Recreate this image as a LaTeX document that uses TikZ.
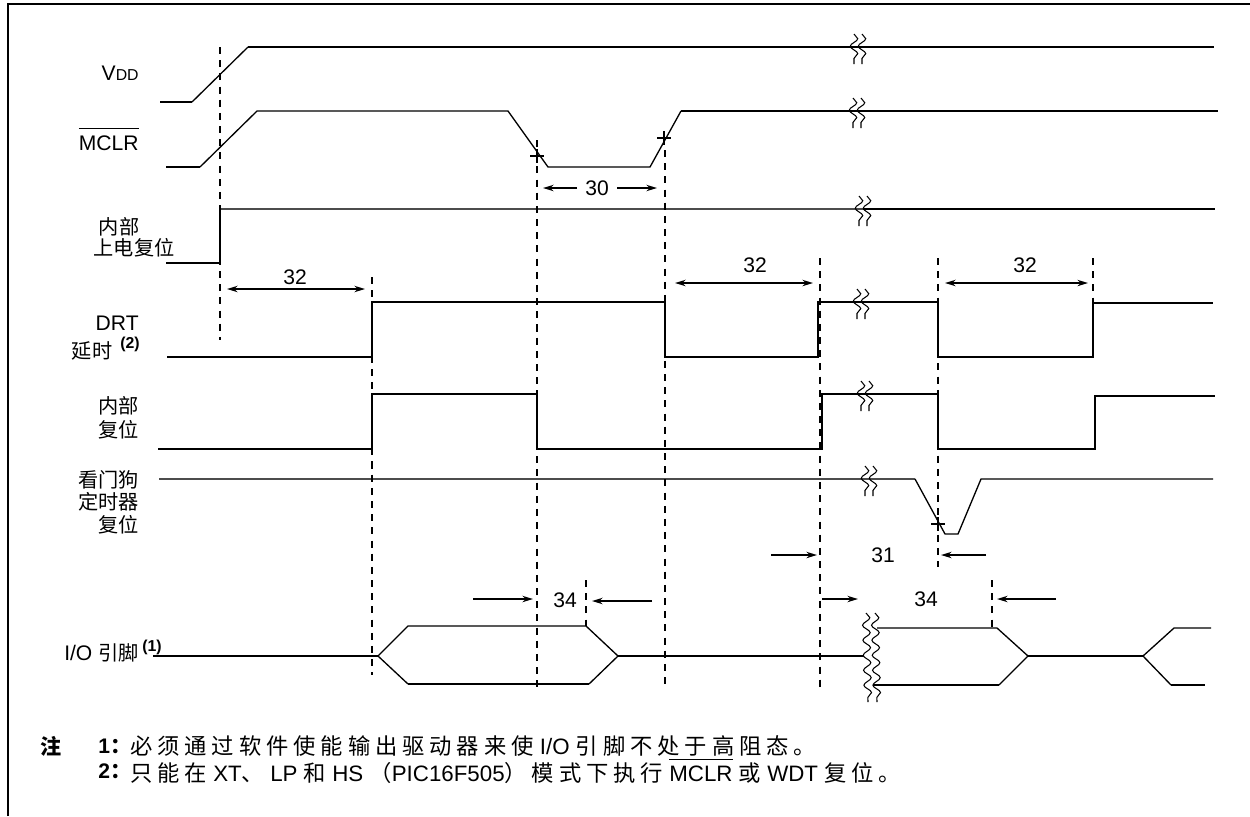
\documentclass[tikz,border=0pt]{standalone}
\usepackage{fontspec}
\setmainfont{Liberation Sans}
\newfontfamily\cjk{Noto Sans CJK SC}
\newfontfamily\cjknote[LetterSpace=22]{Noto Sans CJK SC}
\usetikzlibrary{arrows.meta, decorations.pathmorphing}
\tikzset{
  % Signal levels (thick) and slopes (thin)
  sig/.style={line width=1.3pt},
  ramp/.style={line width=0.75pt},
  graysig/.style={line width=1pt, black!70},
  % Timing guide lines
  guide/.style={line width=1pt, dash pattern=on 4pt off 3.5pt},
  % Dimension arrows
  dimarrow/.style={-{Stealth[length=6pt, width=3.6pt]}, line width=1pt},
  dimboth/.style={{Stealth[length=6pt, width=3.6pt]}-{Stealth[length=6pt, width=3.6pt]}, line width=1pt},
  % Text
  lbl/.style={font=\fontsize{12}{14}\selectfont, inner sep=0pt},
  zh/.style={font=\cjk\fontsize{11.5}{13.5}\selectfont, inner sep=0pt},
  numlbl/.style={font=\fontsize{12}{14}\selectfont, inner sep=0pt},
  notenum/.style={font=\fontsize{9}{10}\selectfont\bfseries, inner sep=0pt},
  notetext/.style={font=\fontsize{12.7}{14}\selectfont, inner sep=0pt, anchor=west},
  % Wavy break line
  wavy/.style={line width=0.6pt, decorate, decoration={snake, segment length=0.3cm, amplitude=0.075cm}},
  % Break mark on a signal
  breakmark/.pic={
    \draw[wavy] (-4,-13) -- (-4,17);
    \draw[wavy] (4,-13) -- (4,17);
  },
  % Threshold crossing mark
  crossmark/.pic={
    \draw[line width=0.7pt] (-7,0) -- (7,0) (0,-7) -- (0,7);
  }
}

\begin{document}
\begin{tikzpicture}[x=0.02cm, y=-0.02cm]
  \useasboundingbox (0,0) rectangle (1250,816);

  % Frame
  \draw[line width=1.1pt] (8,816) -- (8,4) -- (1250,4);

  % Signal names
  \node[lbl, anchor=base east] (vddlbl) at (139,80) {V{\fontsize{9}{10}\selectfont DD}};
  \node[lbl, anchor=base east] (mclrlbl) at (139,150) {$\overline{\mbox{\rule{0pt}{11pt}MCLR}}$};
  \node[zh] (porlbla) at (119,227) {内部};
  \node[zh] (porlblb) at (134,248) {上电复位};
  \node[lbl, anchor=east] (drtlbl) at (139,323) {DRT};
  \node[zh] (drtlblb) at (92,351) {延时};
  \node[notenum] (drtnote) at (130,344) {(2)};
  \node[zh, anchor=east, align=right] (rstlbl) at (139,418) {内部\\复位};
  \node[zh, anchor=east, align=right, font=\cjk\fontsize{11.5}{12.8}\selectfont] (wdtlbl) at (139,502) {看门狗\\定时器\\复位};
  \node[lbl, anchor=east] (iolbl) at (139,653) {I/O {\cjk\fontsize{11.5}{13.5}\selectfont 引脚}};
  \node[notenum] (ionote) at (152,647) {(1)};

  % VDD
  \draw[sig] (160,102) -- (192,102);
  \draw[ramp] (192,102) -- (248,47);
  \draw[sig] (248,47) -- (1214,47);
  \pic at (858,47) {breakmark};

  % MCLR
  \draw[sig] (166,167) -- (200,167);
  \draw[ramp] (200,167) -- (257,111) -- (508,111) -- (548,167) -- (650,167) -- (681,111);
  \draw[sig] (681,111) -- (1218,111);
  \pic at (857,111) {breakmark};
  \pic at (537,156) {crossmark};
  \pic at (664,138) {crossmark};

  % Internal power-on reset
  \draw[sig] (166,263) -- (220,263) -- (220,209);
  \draw[graysig] (220,209) -- (863,209);
  \draw[sig] (863,209) -- (1215,209);
  \pic at (863,209) {breakmark};

  % DRT
  \draw[sig] (167,357) -- (372,357) -- (372,302) -- (665,302) -- (665,357) -- (818,357)
    -- (818,302) -- (938,302) -- (938,357) -- (1093,357) -- (1093,303) -- (1213,303);
  \pic at (861,302) {breakmark};

  % Internal reset
  \draw[sig] (158,449) -- (372,449) -- (372,394) -- (537,394) -- (537,449) -- (822,449)
    -- (822,394) -- (938,394) -- (938,449) -- (1095,449) -- (1095,396) -- (1215,396);
  \pic at (865,394) {breakmark};

  % WDT reset
  \draw[graysig] (159,479) -- (915,479);
  \draw[ramp] (915,479) -- (945,534) -- (958,534) -- (981,479) -- (1213,479);
  \pic at (869,479) {breakmark};
  \pic at (938,524) {crossmark};

  % I/O pin
  \draw[sig] (153,656) -- (378,656);
  \draw[ramp] (378,656) -- (408,626) -- (586,626) -- (618,656);
  \draw[ramp] (378,656) -- (408,684);
  \draw[sig] (408,684) -- (589,684);
  \draw[ramp] (589,684) -- (618,656);
  \draw[sig] (618,656) -- (864,656);
  \draw[ramp] (877,628) -- (997,628) -- (1028,656);
  \draw[sig] (873,685) -- (999,685);
  \draw[ramp] (999,685) -- (1028,656);
  \draw[sig] (1028,656) -- (1143,656);
  \draw[ramp] (1211,628) -- (1174,628) -- (1143,656) -- (1171,685);
  \draw[sig] (1171,685) -- (1205,685);
  \draw[wavy] (866,613) -- (868,702);
  \draw[wavy] (875,613) -- (877,702);

  % Guide lines
  \draw[guide] (220,47) -- (220,340);
  \draw[guide] (372,277) -- (372,675);
  \draw[guide] (537,140) -- (537,687);
  \draw[guide] (665,150) -- (665,687);
  \draw[guide] (820,258) -- (820,687);
  \draw[guide] (938,258) -- (938,567);
  \draw[guide] (1093,258) -- (1093,302);
  \draw[guide] (586,580) -- (586,626);
  \draw[guide] (992,580) -- (992,627);

  % 30: MCLR pulse width
  \node[numlbl] (n30) at (597,188) {30};
  \draw[dimarrow] (577,188) -- (543,188);
  \draw[dimarrow] (617,188) -- (657,188);

  % 32: DRT time-out
  \node[numlbl] (n32a) at (295,277) {32};
  \draw[dimboth] (227,289) -- (365,289);
  \node[numlbl] (n32b) at (755,265) {32};
  \draw[dimboth] (675,283) -- (813,283);
  \node[numlbl] (n32c) at (1025,265) {32};
  \draw[dimboth] (945,283) -- (1088,283);

  % 31: WDT
  \node[numlbl] (n31) at (883,555) {31};
  \draw[dimarrow] (771,555) -- (817,555);
  \draw[dimarrow] (986,555) -- (941,555);

  % 34: I/O hi-impedance
  \node[numlbl] (n34a) at (565,600) {34};
  \draw[dimarrow] (473,599) -- (533,599);
  \draw[dimarrow] (652,601) -- (592,601);
  \node[numlbl] (n34b) at (926,599) {34};
  \draw[dimarrow] (822,599) -- (858,599);
  \draw[dimarrow] (1056,599) -- (997,599);

  % Notes
  \node[zh, anchor=west, font=\cjk\bfseries\fontsize{12}{14}\selectfont] (notehd) at (40,746) {注};
  \node[notetext, font=\fontsize{12}{14}\selectfont\bfseries] (noteonenum) at (98,746) {1{\cjk ：}};
  \node[notetext] (noteone) at (130,746) {{\cjknote 必须通过软件使能输出驱动器来使} I/O {\cjknote 引脚不处于高阻态。}};
  \node[notetext, font=\fontsize{12}{14}\selectfont\bfseries] (notetwonum) at (98,771) {2{\cjk ：}};
  \node[notetext] (notetwo) at (130,771) {{\cjknote 只能在} XT{\cjknote 、} LP {\cjknote 和} HS {\cjknote （}PIC16F505{\cjknote ）模式下执行} $\overline{\mbox{\rule{0pt}{11pt}MCLR}}$ {\cjknote 或} WDT {\cjknote 复位。}};
\end{tikzpicture}
\end{document}
